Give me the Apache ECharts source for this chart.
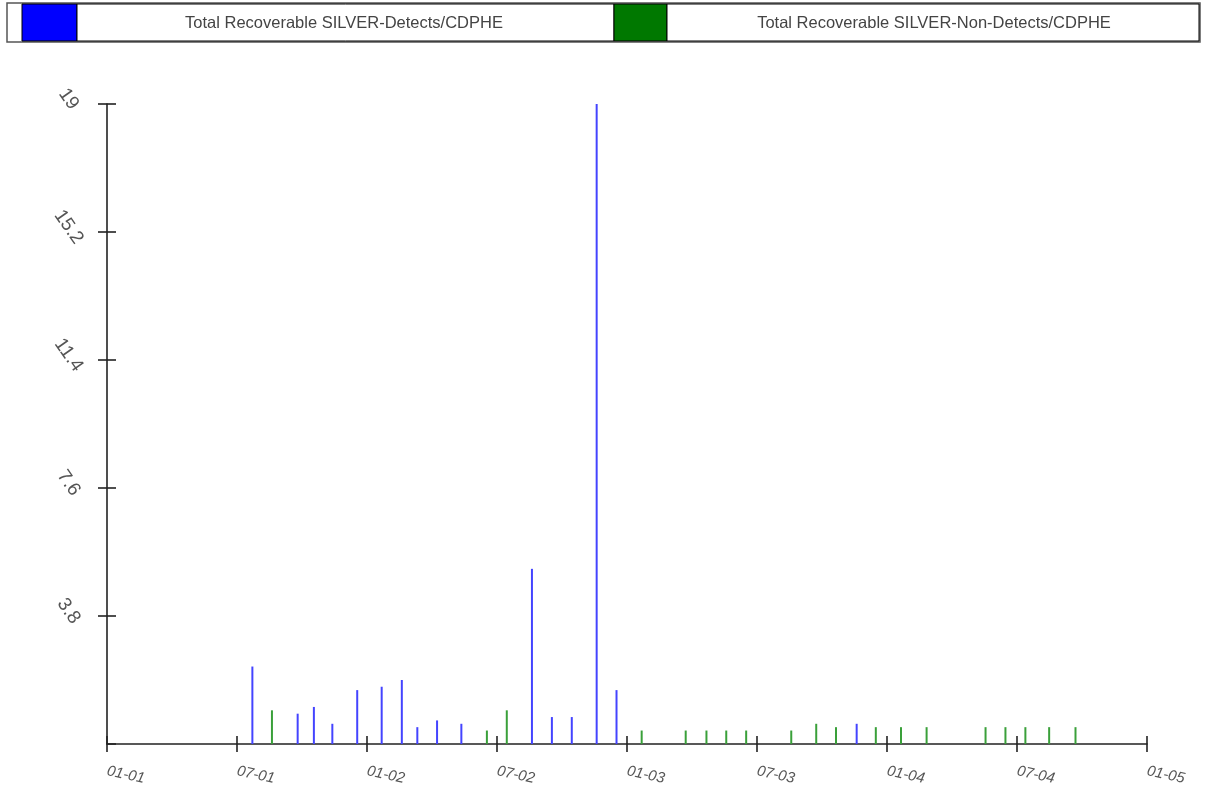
<!DOCTYPE html>
<html>
<head>
<meta charset="utf-8">
<script src="https://cdn.jsdelivr.net/npm/echarts@6/dist/echarts.min.js"></script>
<style>
html,body{margin:0;padding:0;background:#fff;}
#chart{width:1207px;height:794px;}
</style>
</head>
<body>
<div id="chart"></div>
<script>
// ---- data ----
var legendNames = ['Total Recoverable SILVER-Detects/CDPHE', 'Total Recoverable SILVER-Non-Detects/CDPHE'];
var xTickLabels = ['01-01','07-01','01-02','07-02','01-03','07-03','01-04','07-04','01-05'];
var yTickLabels = [3.8, 7.6, 11.4, 15.2, 19];

var detectDates = ['2001-07-23','2001-09-25','2001-10-18','2001-11-13','2001-12-18','2002-01-22','2002-02-18','2002-03-11','2002-04-08','2002-05-12','2002-08-20','2002-09-17','2002-10-15','2002-11-19','2002-12-17','2003-11-19'];
var detectValues = [2.3, 0.9, 1.1, 0.6, 1.6, 1.7, 1.9, 0.5, 0.7, 0.6, 5.2, 0.8, 0.8, 19, 1.6, 0.6];

var nonDetectDates = ['2001-08-20','2002-06-17','2002-07-15','2003-01-22','2003-03-23','2003-04-21','2003-05-19','2003-06-16','2003-08-19','2003-09-23','2003-10-21','2003-12-16','2004-01-21','2004-02-25','2004-05-18','2004-06-15','2004-07-13','2004-08-16','2004-09-22'];
var nonDetectValues = [1.0, 0.4, 1.0, 0.4, 0.4, 0.4, 0.4, 0.4, 0.4, 0.6, 0.5, 0.5, 0.5, 0.5, 0.5, 0.5, 0.5, 0.5, 0.5];

// months since 2001-01-01
function monthIndex(s) {
  var p = s.split('-').map(Number);
  var dim = new Date(p[0], p[1], 0).getDate();
  return (p[0] - 2001) * 12 + (p[1] - 1) + (p[2] - 1) / dim;
}
function pairs(dates, vals) {
  return dates.map(function (d, i) { return [monthIndex(d), vals[i]]; });
}

var axisLineStyle = { color: '#222', width: 1.6 };
function xAxisDef(inside, main) {
  return {
    type: 'value', min: 0, max: 48, interval: 6, position: 'bottom',
    axisLine: { show: main, onZero: false, lineStyle: axisLineStyle },
    axisTick: { show: true, inside: inside, length: 8, lineStyle: axisLineStyle },
    splitLine: { show: false },
    axisLabel: {
      show: main, rotate: -12, margin: 27, color: '#555',
      fontFamily: 'Liberation Sans', fontSize: 15, fontStyle: 'italic',
      formatter: function (v) { return xTickLabels[Math.round(v / 6)]; }
    }
  };
}
function yAxisDef(inside, main) {
  return {
    type: 'value', min: 0, max: 19, interval: 3.8, position: 'left',
    axisLine: { show: main, onZero: false, lineStyle: axisLineStyle },
    axisTick: { show: true, inside: inside, length: 9, lineStyle: axisLineStyle },
    splitLine: { show: false },
    axisLabel: {
      show: main, showMinLabel: false, rotate: -55, margin: 35,
      align: 'center', verticalAlign: 'middle', color: '#555',
      padding: [0, 12, 8, 0],
      fontFamily: 'Liberation Sans', fontSize: 19,
      formatter: function (v) {
        var idx = Math.round(v / 3.8) - 1;
        return idx >= 0 ? String(yTickLabels[idx]) : '';
      }
    }
  };
}

var chart = echarts.init(document.getElementById('chart'), null, { renderer: 'canvas' });
chart.setOption({
  backgroundColor: '#fff',
  animation: false,
  grid: { left: 107, right: 60, top: 104, bottom: 50 },
  xAxis: [xAxisDef(false, true), xAxisDef(true, false)],
  yAxis: [yAxisDef(false, true), yAxisDef(true, false)],
  graphic: [
    { type: 'rect', shape: { x: 7, y: 3, width: 1193, height: 39 }, style: { fill: '#fff', stroke: '#555', lineWidth: 1.5 } },
    { type: 'rect', shape: { x: 22, y: 4, width: 55, height: 37 }, style: { fill: '#0000ff', stroke: '#000', lineWidth: 1 } },
    { type: 'rect', shape: { x: 77, y: 4, width: 537, height: 37 }, style: { fill: '#fff', stroke: '#000', lineWidth: 1 } },
    { type: 'rect', shape: { x: 614, y: 4, width: 53, height: 37 }, style: { fill: '#007800', stroke: '#000', lineWidth: 1 } },
    { type: 'rect', shape: { x: 667, y: 4, width: 532, height: 37 }, style: { fill: '#fff', stroke: '#000', lineWidth: 1 } },
    { type: 'text', style: { text: legendNames[0], x: 344, y: 23, align: 'center', verticalAlign: 'middle', font: '16.5px "Liberation Sans"', fill: '#444' } },
    { type: 'text', style: { text: legendNames[1], x: 934, y: 23, align: 'center', verticalAlign: 'middle', font: '16.5px "Liberation Sans"', fill: '#444' } }
  ],
  series: [
    {
      name: legendNames[0], type: 'bar', xAxisIndex: 0, yAxisIndex: 0,
      barWidth: 2, barGap: '-100%',
      itemStyle: { color: '#4444ff' },
      data: pairs(detectDates, detectValues)
    },
    {
      name: legendNames[1], type: 'bar', xAxisIndex: 0, yAxisIndex: 0,
      barWidth: 2, barGap: '-100%',
      itemStyle: { color: '#3aa03a' },
      data: pairs(nonDetectDates, nonDetectValues)
    }
  ]
});
</script>
</body>
</html>
